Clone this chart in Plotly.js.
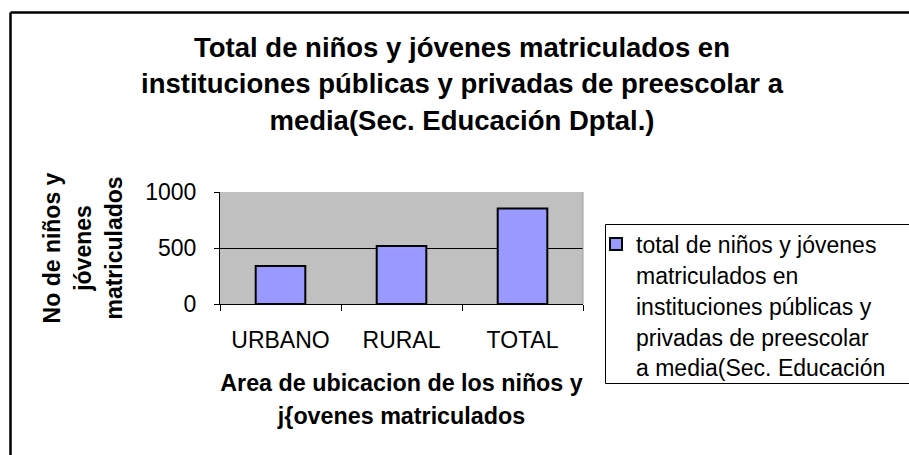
<!DOCTYPE html>
<html>
<head>
<meta charset="utf-8">
<script src="https://cdn.plot.ly/plotly-3.0.1.min.js"></script>
<style>html,body{margin:0;padding:0;background:#fff;}#chart{width:909px;height:455px;}</style>
</head>
<body>
<div id="chart"></div>
<script>
const categories = ["URBANO", "RURAL", "TOTAL"];
const values = [340, 518, 852];
const seriesName = ["total de niños y jóvenes", "matriculados en", "instituciones públicas y", "privadas de preescolar", "a media(Sec. Educación"];
const titleLines = ["Total de niños y jóvenes matriculados en", "instituciones públicas y privadas de preescolar a", "media(Sec. Educación Dptal.)"];
const yTitleLines = ["No de niños y", "jóvenes", "matriculados"];
const xTitleLines = ["Area de ubicacion de los niños y", "j{ovenes matriculados"];
const yTicks = [0, 500, 1000];

const FONT = "Liberation Sans, Arial, sans-serif";
const span = (lines, px) => lines.map(l => `<span style="font-size:${px}px">${l}</span>`).join("<br>");

const L = 220, R = 583, T = 192, B = 304;
const px2x = x => (x - L) / (R - L);
const px2y = y => (B - y) / (B - T);

const trace = {
  type: "bar",
  x: categories,
  y: values,
  name: span(seriesName, 23),
  marker: {color: "#9999ff", line: {color: "#000000", width: 2}},
  showlegend: true
};

const layout = {
  width: 909, height: 455,
  paper_bgcolor: "#ffffff",
  plot_bgcolor: "#c0c0c0",
  margin: {l: L, r: 909 - R, t: T, b: 455 - B, autoexpand: false},
  font: {family: FONT, color: "#000000", size: 22},
  bargap: 0.59,
  title: {
    text: span(titleLines, 27.5),
    font: {family: FONT, size: 28, weight: "bold", color: "#000"},
    xref: "container", yref: "container",
    x: 462 / 909, xanchor: "center",
    y: 1 - 57 / 455, yanchor: "top"
  },
  xaxis: {
    type: "category",
    showline: true, linecolor: "#000", linewidth: 1,
    ticks: "outside", ticklen: 6, tickcolor: "#000", tickson: "boundaries",
    tickfont: {family: FONT, size: 23},
    ticklabelstandoff: 15,
    showgrid: false,
    title: {text: span(xTitleLines, 23.3), font: {family: FONT, size: 25.5, weight: "bold"}, standoff: 21}
  },
  yaxis: {
    range: [0, 1000],
    tickvals: yTicks,
    ticktext: yTicks.map(String),
    showline: true, linecolor: "#000", linewidth: 1,
    ticks: "outside", ticklen: 5, tickcolor: "#000",
    tickfont: {family: FONT, size: 23},
    ticklabelstandoff: 13,
    showgrid: true, gridcolor: "#000000", gridwidth: 1,
    zeroline: false,
    title: {text: span(yTitleLines, 23), font: {family: FONT, size: 24, weight: "bold"}, standoff: 15}
  },
  legend: {
    x: px2x(596), xanchor: "left",
    y: px2y(222), yanchor: "top",
    bgcolor: "rgba(0,0,0,0)", borderwidth: 0,
    font: {family: FONT, size: 23.7},
    valign: "top",
    maxheight: 400
  },
  shapes: [
    {type: "rect", layer: "below", xref: "paper", yref: "paper", x0: px2x(605.5), x1: px2x(940), y0: px2y(224.5), y1: px2y(383.5), fillcolor: "#ffffff", line: {color: "#000", width: 1}},
    {type: "line", xref: "paper", yref: "paper", x0: 1, x1: 1, y0: 0, y1: 1, line: {color: "#a0a0a0", width: 1}},
    {type: "line", xref: "paper", yref: "paper", x0: px2x(10.5), x1: px2x(10.5), y0: px2y(12.5), y1: px2y(470), line: {color: "#000", width: 2.5}},
    {type: "line", xref: "paper", yref: "paper", x0: px2x(10.5), x1: px2x(930), y0: px2y(12.5), y1: px2y(12.5), line: {color: "#000", width: 2.5}}
  ]
};

Plotly.newPlot("chart", [trace], layout, {displayModeBar: false, staticPlot: true});
</script>
</body>
</html>
